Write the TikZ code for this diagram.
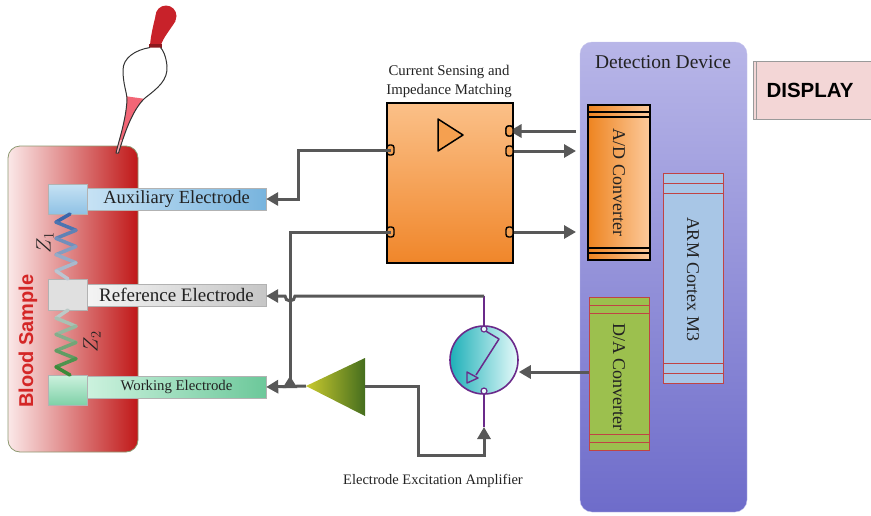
\documentclass[tikz,border=0pt]{standalone}
\usepackage{fontspec}
\setmainfont{Liberation Serif}
\newfontfamily\labelsans{Liberation Sans}
\usetikzlibrary{arrows.meta}

\definecolor{wire}{HTML}{585858}
\definecolor{txt}{HTML}{222222}
\definecolor{bloodL}{HTML}{FBE8E8}
\definecolor{bloodM}{HTML}{DC4040}
\definecolor{bloodR}{HTML}{C01818}
\definecolor{bloodEdge}{HTML}{8E9A72}
\definecolor{bloodText}{HTML}{D42626}
\definecolor{bulbRed}{HTML}{C8222A}
\definecolor{liquid}{HTML}{F26676}
\definecolor{auxL}{HTML}{C6E2F4}
\definecolor{auxR}{HTML}{78B4DE}
\definecolor{refL}{HTML}{F4F4F4}
\definecolor{refR}{HTML}{C6C6C6}
\definecolor{workL}{HTML}{CCF2DE}
\definecolor{workR}{HTML}{6CC89A}
\definecolor{zBlue}{HTML}{3A66AA}
\definecolor{zGrey}{HTML}{C8D0D6}
\definecolor{zGreen}{HTML}{3C8A3A}
\definecolor{orTop}{HTML}{FBC088}
\definecolor{orBot}{HTML}{F0862A}
\definecolor{orMid}{HTML}{F5A050}
\definecolor{devTop}{HTML}{B8B6E8}
\definecolor{devBot}{HTML}{6E6CCA}
\definecolor{dispFill}{HTML}{F3D6D6}
\definecolor{dispEdge}{HTML}{9A9A9A}
\definecolor{adL}{HTML}{EE8420}
\definecolor{adR}{HTML}{FCCA9C}
\definecolor{armFill}{HTML}{A8C6E6}
\definecolor{daFill}{HTML}{9CC04E}
\definecolor{stripe}{HTML}{C04444}
\definecolor{swPurple}{HTML}{6A2A8A}
\definecolor{swL}{HTML}{1EB0B8}
\definecolor{swR}{HTML}{E6FAFA}
\definecolor{ampTip}{HTML}{CACA2E}
\definecolor{ampBase}{HTML}{456E1E}

\begin{document}
\begin{tikzpicture}[x=1pt,y=-1pt,
  wireline/.style={draw=wire,line width=3pt},
  arr/.style={-{Triangle[length=12pt,width=13pt]}},
  bar/.style={minimum height=22pt,minimum width=179pt,inner sep=0pt,draw=white!70!black,line width=0.4pt},
  padsq/.style={minimum width=39pt,inner sep=0pt,draw=white!70!black,line width=0.4pt},
  portbox/.style={draw=black,line width=1.4pt,fill=orMid,rounded corners=2.5pt,
    minimum width=7pt,minimum height=10pt,inner sep=0pt},
  chip/.style={inner sep=0pt,text=txt,font=\fontsize{18}{20}\selectfont},
  captxt/.style={text=txt,inner sep=0pt}
]
\useasboundingbox (0,0) rectangle (871,515);

% ---------- blood sample container ----------
\node[draw=bloodEdge,line width=0.8pt,rounded corners=12pt,
      left color=bloodL,middle color=bloodM,right color=bloodR,
      minimum width=130pt,minimum height=306pt,inner sep=0pt] (blood) at (73,299) {};
\node[rotate=90,text=bloodText,font=\labelsans\bfseries\fontsize{20}{22}\selectfont]
      (bloodlbl) at (28,341) {Blood Sample};

% ---------- pipette ----------
% rubber bulb
\fill[bulbRed] (166,16) circle (10.5pt);
\fill[bulbRed] (150,45) .. controls (151,34) and (154,22) .. (156.5,12.5)
   -- (175.5,21) .. controls (170,30) and (163,38) .. (161,45) -- cycle;
\fill[bulbRed!70!black] (148.5,44) rectangle (162,47.5);
% glass body
\def\glass{(150,47.5) .. controls (135,50) and (123,58) .. (123,70)
   .. controls (123,85) and (127,92) .. (127,100)
   .. controls (126,120) and (119,140) .. (116,153)
   -- (118.5,153) .. controls (124,135) and (132,110) .. (145,98)
   .. controls (158,88) and (168,80) .. (167,66)
   .. controls (166,56) and (163,50) .. (160.5,47.5)}
\fill[white] \glass -- cycle;
\begin{scope}
  \clip \glass -- cycle;
  \fill[liquid] (110,94) -- (160,101) -- (160,170) -- (110,170) -- cycle;
  \fill[liquid!55!white] (110,140) rectangle (160,170);
\end{scope}
\draw[black!80,line width=1pt,line join=round] \glass;

% ---------- electrodes ----------
\node[padsq,minimum height=30pt,top color=auxL,bottom color=auxR!70!auxL] (auxsq) at (67.5,199) {};
\node[bar,left color=auxL,right color=auxR,captxt,font=\fontsize{18.5}{20}\selectfont] (aux) at (176.5,199) {Auxiliary Electrode};
\node[padsq,minimum height=31pt,fill=white!88!black] (refsq) at (67.5,294.5) {};
\node[bar,left color=refL,right color=refR,captxt,font=\fontsize{19}{20}\selectfont] (ref) at (176.5,295) {Reference Electrode};
\node[padsq,minimum height=30pt,top color=workL,bottom color=workR!80!workL] (worksq) at (67.5,390) {};
\node[bar,left color=workL,right color=workR,captxt,font=\fontsize{14.8}{16}\selectfont] (work) at (176.5,387) {Working Electrode};

% impedance zig-zags between the electrode pads
\foreach \i/\xa/\xb in {0/70/56,1/56/76,2/76/56,3/56/76,4/76/56,5/56/76,6/76/56,7/56/68}{
  \pgfmathsetmacro\ya{214+\i*8.125}
  \pgfmathsetmacro\yb{\ya+8.125}
  \pgfmathtruncatemacro\pc{100-\i*13}
  \draw[line width=3.5pt,line cap=round,color=zBlue!\pc!zGrey] (\xa,\ya) -- (\xb,\yb);
}
\foreach \i/\xa/\xb in {0/68/56,1/56/76,2/76/56,3/56/76,4/76/56,5/56/76,6/76/56,7/56/70}{
  \pgfmathsetmacro\ya{310+\i*8.125}
  \pgfmathsetmacro\yb{\ya+8.125}
  \pgfmathtruncatemacro\pc{9+\i*13}
  \draw[line width=3.5pt,line cap=round,color=zGreen!\pc!zGrey] (\xa,\ya) -- (\xb,\yb);
}
\node[rotate=90,captxt,font=\fontsize{20}{20}\selectfont] (z1) at (45,243) {$Z_1$};
\node[rotate=90,captxt,font=\fontsize{20}{20}\selectfont] (z2) at (92,342) {$Z_2$};

% ---------- current sensing block ----------
\node[draw=black,line width=1.6pt,top color=orTop,bottom color=orBot,
      minimum width=126pt,minimum height=160pt,inner sep=0pt] (cs) at (450,183) {};
\node[captxt,align=center,font=\fontsize{14.8}{19}\selectfont] (cslbl) at (449,81)
      {Current Sensing and\\Impedance Matching};
\draw[black,line width=1.5pt,fill=orMid,line join=round] (438,119) -- (463,135) -- (438,151) -- cycle;
\node[portbox] (pl1) at (390.5,150) {};
\node[portbox] (pl2) at (390.5,232) {};
\node[portbox] (pr1) at (509.5,131) {};
\node[portbox] (pr2) at (509.5,151) {};
\node[portbox] (pr3) at (509.5,232) {};

% ---------- detection device ----------
\node[rounded corners=12pt,top color=devTop,bottom color=devBot,draw=devTop!80!white,
      minimum width=167pt,minimum height=470pt,inner sep=0pt] (dev) at (663.5,277) {};
\node[captxt,font=\fontsize{19.5}{21}\selectfont] (devlbl) at (663,62) {Detection Device};

\fill[dispFill] (753,61) rectangle (871,119);
\draw[dispEdge,line width=0.9pt] (871,61) -- (753,61) -- (753,119) -- (871,119);
\draw[dispEdge,line width=0.6pt] (756,61) -- (756,119);
\node[font=\labelsans\bfseries\fontsize{20.5}{22}\selectfont,text=black] (disp) at (810,90) {DISPLAY};

% A/D converter
\node[draw=black,line width=1.8pt,left color=adL,right color=adR,
      minimum width=62pt,minimum height=155pt,inner sep=0pt] (ad) at (619,182.5) {};
\draw[black,line width=1.4pt] (588,112) -- (650,112) (588,117) -- (650,117)
  (588,248) -- (650,248) (588,253) -- (650,253);
\node[chip,rotate=-90] (adlbl) at (ad.center) {A/D Converter};

% ARM core
\node[draw=stripe,line width=0.8pt,fill=armFill,
      minimum width=60pt,minimum height=210pt,inner sep=0pt] (arm) at (693,278) {};
\draw[stripe,line width=0.8pt] (663,183) -- (723,183) (663,193) -- (723,193)
  (663,363) -- (723,363) (663,373) -- (723,373);
\node[chip,rotate=-90] (armlbl) at (693,279) {ARM Cortex M3};

% D/A converter
\node[draw=stripe,line width=0.8pt,fill=daFill,
      minimum width=60pt,minimum height=153pt,inner sep=0pt] (da) at (619,373.5) {};
\draw[stripe,line width=0.8pt] (589,305) -- (649,305) (589,313) -- (649,313)
  (589,434) -- (649,434) (589,442) -- (649,442);
\node[chip,rotate=-90] (dalbl) at (619,377) {D/A Converter};

% ---------- excitation switch and amplifier ----------
\node[circle,draw=swPurple,line width=1.6pt,left color=swL,right color=swR,
      minimum size=68pt,inner sep=0pt] (sw) at (484,360) {};
\coordinate (swtop) at (484,296);
\coordinate (swbot) at (484,427);
\draw[swPurple,line width=1.4pt] (swtop) -- (484,326) (484,394) -- (swbot);
\draw[swPurple,line width=1.5pt,line join=round] (484,330) -- (499,339) -- (476,375);
\draw[swPurple,line width=1.4pt,line join=round] (467,372) -- (478,378) -- (467,383) -- cycle;
\draw[swPurple,line width=1.2pt,fill=swR] (484,329) circle (3pt) (484,391) circle (3pt);

\shade[left color=ampTip,right color=ampBase] (306,386) -- (365,358) -- (365,416) -- cycle;
\coordinate (amptip) at (306,386);
\coordinate (ampbase) at (365,386);

\node[captxt,font=\fontsize{14.5}{16}\selectfont] (amplbl) at (433,481) {Electrode Excitation Amplifier};

% ---------- connectors ----------
\draw[wireline,arr] (pl1.center) -- (298,150) -- (298,199) -- (aux.east);
\draw[wireline,-{Triangle[reversed,length=12pt,width=14pt]}] (pl2.center) -- (290,232) -- (290,388);
\draw[wireline,arr] (swtop) -- (295,296) arc[start angle=0,end angle=-180,radius=5pt] -- (ref.east |- 0,296);
\draw[wireline,arr] (amptip) -- (work.east);
\draw[wireline,arr] (ampbase) -- (418,386) -- (418,455) -- (484,455) -- (swbot);
\draw[wireline,arr] (da.west |- 0,372) -- (sw.east |- 0,372);
\draw[wireline,arr] (576,131) -- (pr1.center);
\draw[wireline,arr] (pr2.east) -- (576,151);
\draw[wireline,arr] (pr3.east) -- (576,232);
\node[portbox] at (pr1) {};
\end{tikzpicture}
\end{document}
